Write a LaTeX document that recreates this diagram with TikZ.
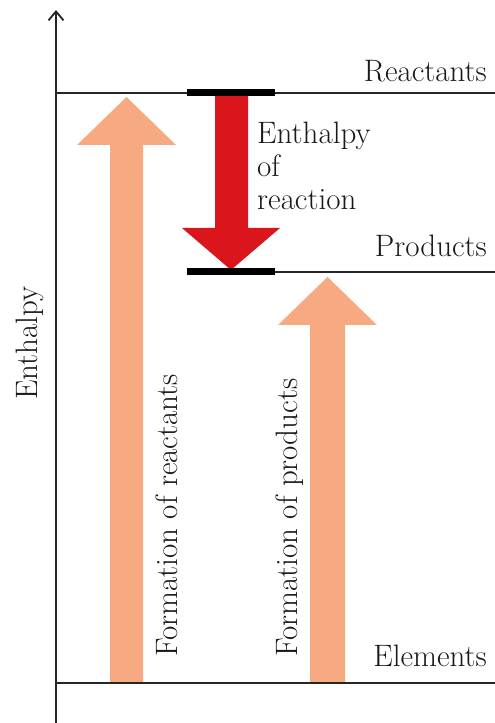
\documentclass[tikz,border=0pt]{standalone}
\usepackage{tikz}
\usetikzlibrary{arrows.meta, positioning}

\definecolor{formorange}{RGB}{247,170,130}
\definecolor{reactred}{RGB}{218,22,28}

\begin{document}
\begin{tikzpicture}[
  x=1pt, y=1pt,
  axis/.style={line width=1.6pt, black!85, -{Straight Barb[length=9pt, width=15pt, line width=1.8pt]}},
  level/.style={line width=2.2pt, black!85},
  levelbar/.style={line width=7pt, black},
  lbl/.style={font=\fontsize{31}{33}\selectfont, text=black!90, inner sep=0pt},
  formarrow/.style={fill=formorange},
  deltaarrow/.style={fill=reactred}
]
\useasboundingbox (0,0) rectangle (495,723);

% energy levels
\coordinate (axisbot) at (56,0);
\coordinate (axistop) at (56,713);
\coordinate (reactL) at (56,630);
\coordinate (reactR) at (495,630);
\coordinate (prodL) at (187,451);
\coordinate (prodR) at (495,451);
\coordinate (elemL) at (56,40);
\coordinate (elemR) at (495,40);

% formation arrows
\fill[formarrow] (110,40) -- (110,578) -- (77,578) -- (126.5,626) -- (176,578)
  -- (143,578) -- (143,40) -- cycle;
\fill[formarrow] (310,40) -- (310,398) -- (278,398) -- (327.5,446) -- (377,398)
  -- (345,398) -- (345,40) -- cycle;

% enthalpy of reaction arrow
\fill[deltaarrow] (215,627) -- (215,495) -- (182,495) -- (231,453) -- (280,495)
  -- (248,495) -- (248,627) -- cycle;

\draw[level] (reactL) -- (reactR);
\draw[level] (prodL) -- (prodR);
\draw[level] (elemL) -- (elemR);
\draw[levelbar] (187,630) -- (275,630);
\draw[levelbar] (187,451) -- (275,451);
\draw[axis] (axisbot) -- (axistop);

% labels
\node[lbl, anchor=base east] (reactants) at (487,641) {Reactants};
\node[lbl, anchor=base east] (products) at (487,466) {Products};
\node[lbl, anchor=base east] (elements) at (487,56) {Elements};
\node[lbl, anchor=north west, align=left] (dh) at (257,601) {Enthalpy\\of\\reaction};
\node[lbl, rotate=90, anchor=base west] (enthalpy) at (37,323) {Enthalpy};
\node[lbl, rotate=90, anchor=base west] (formreact) at (177,66) {Formation of reactants};
\node[lbl, rotate=90, anchor=base west] (formprod) at (297,66) {Formation of products};

\end{tikzpicture}
\end{document}
